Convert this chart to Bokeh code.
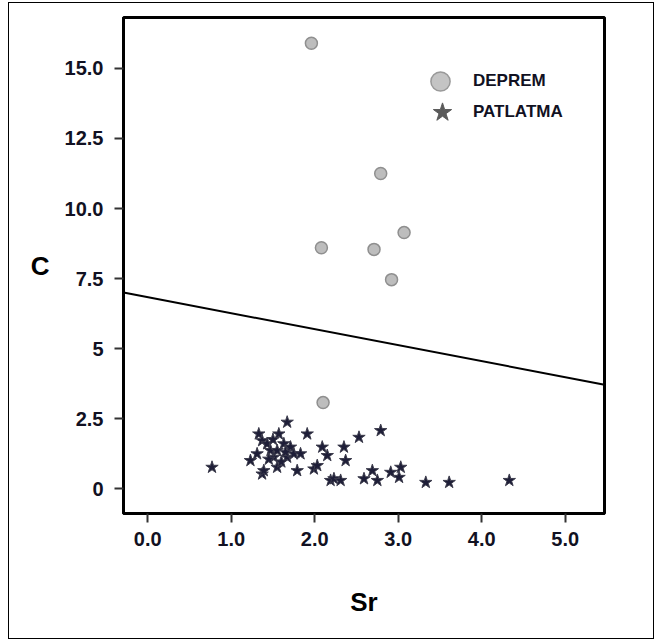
from bokeh.plotting import figure
from bokeh.models import Range1d, FixedTicker, Legend, LegendItem
from bokeh.embed import file_html
from bokeh.resources import INLINE

# DEPREM (earthquake) points
sr_deprem = [1.96, 2.79, 2.08, 2.71, 3.07, 2.92, 2.10]
c_deprem = [15.9, 11.25, 8.6, 8.54, 9.14, 7.46, 3.07]

# PATLATMA (explosion) points
sr_patlatma = [0.77, 1.23, 1.31, 1.33, 1.37, 1.37, 1.39, 1.43, 1.47, 1.51, 1.55, 1.55,
               1.57, 1.63, 1.67, 1.67, 1.71, 1.75, 1.79, 1.83, 1.91, 1.99, 2.03, 2.09,
               2.15, 2.19, 2.23, 2.31, 2.35, 2.37, 2.53, 2.59, 2.69, 2.75, 2.79, 2.91,
               3.01, 3.03, 3.33, 3.61, 4.33, 1.45, 1.60, 1.50, 1.65]
c_patlatma = [0.76, 1.00, 1.24, 1.95, 1.71, 0.52, 0.64, 1.60, 1.36, 1.12, 1.36, 0.76,
              1.95, 1.60, 2.37, 1.12, 1.48, 1.24, 0.64, 1.24, 1.95, 0.70, 0.82, 1.48,
              1.18, 0.29, 0.35, 0.29, 1.48, 1.00, 1.83, 0.35, 0.64, 0.29, 2.07, 0.58,
              0.40, 0.76, 0.22, 0.22, 0.29, 1.05, 0.95, 1.75, 1.30]

# discriminant line
sr_line = [-0.29, 5.47]
c_line = [7.0, 3.71]

x_ticks = [0, 1, 2, 3, 4, 5]
x_tick_labels = ["0.0", "1.0", "2.0", "3.0", "4.0", "5.0"]
y_ticks = [0, 2.5, 5, 7.5, 10, 12.5, 15]
y_tick_labels = ["0", "2.5", "5", "7.5", "10.0", "12.5", "15.0"]

FONT = "Liberation Sans"
NAN = float("nan")

p = figure(width=644, height=635,
           x_range=Range1d(-0.29, 5.47), y_range=Range1d(-0.89, 16.82),
           output_backend="svg", toolbar_location=None,
           min_border_left=114, min_border_right=49, min_border_top=14, min_border_bottom=125,
           margin=(3, 0, 0, 9), styles={"outline": "1px solid black"})

p.xgrid.visible = False
p.ygrid.visible = False
p.background_fill_color = "white"
p.border_fill_color = "white"
p.outline_line_color = "black"
p.outline_line_width = 3

for ax, ticks, labels in ((p.xaxis[0], x_ticks, x_tick_labels), (p.yaxis[0], y_ticks, y_tick_labels)):
    ax.ticker = FixedTicker(ticks=ticks)
    ax.major_label_overrides = {t: l for t, l in zip(ticks, labels)}
    ax.minor_tick_line_color = None
    ax.axis_line_width = 3
    ax.axis_line_color = "black"
    ax.major_tick_line_width = 2
    ax.major_tick_line_color = "#333333"
    ax.major_tick_in = 0
    ax.major_tick_out = 9
    ax.major_label_text_font = FONT
    ax.major_label_text_font_style = "bold"
    ax.major_label_text_font_size = "20px"
    ax.major_label_text_color = "#111122"
    ax.axis_label_text_font = FONT
    ax.axis_label_text_font_style = "bold"
    ax.axis_label_text_font_size = "26px"
    ax.axis_label_text_color = "black"

p.xaxis[0].major_label_standoff = 9
p.yaxis[0].major_label_standoff = 11

yax = p.yaxis[0]
yax.axis_label = "C"
yax.axis_label_orientation = "horizontal"
yax.axis_label_standoff = 12

xax = p.xaxis[0]
xax.axis_label = "Sr"
xax.axis_label_standoff = 38

p.line(sr_line, c_line, line_color="black", line_width=2)

p.scatter(sr_deprem, c_deprem, marker="circle", size=12,
          fill_color="#bdbdbd", line_color="#8f8f8f", line_width=1.5)
p.scatter(sr_patlatma, c_patlatma, marker="star", size=13,
          fill_color="#1e1e38", line_color="#3c3c4c", line_width=1)

leg_d = p.scatter([NAN], [NAN], marker="circle", fill_color="#c4c4c4", line_color="#999999", line_width=1.5)
leg_p = p.scatter([NAN], [NAN], marker="star", fill_color="#5a5a5a", line_color="#5a5a5a", line_width=1)

common = dict(glyph_width=48, glyph_height=48, padding=0, margin=0, spacing=0,
              border_line_alpha=0, background_fill_alpha=0,
              label_text_font=FONT, label_text_font_style="bold",
              label_text_font_size="17px", label_text_color="#111122")
leg1 = Legend(items=[LegendItem(label="DEPREM", renderers=[leg_d])], location=(293, 408),
              label_standoff=9, **common)
leg2 = Legend(items=[LegendItem(label="PATLATMA", renderers=[leg_p])], location=(295, 377),
              label_standoff=7, **common)
p.add_layout(leg1)
p.add_layout(leg2)

open("out.html", "w").write(file_html(p, INLINE))
